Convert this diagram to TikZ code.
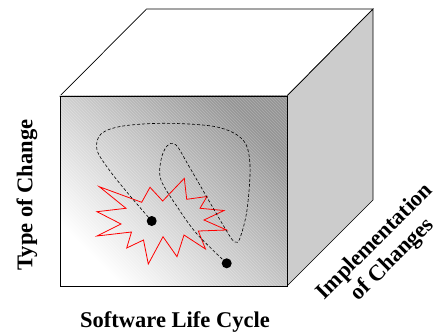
\documentclass[tikz,border=0pt]{standalone}
\usepackage{fontspec}
\setmainfont{Liberation Serif}
\usetikzlibrary{arrows,patterns}

\begin{document}
\begin{tikzpicture}[x=1pt,y=-1pt,
  face/.style={draw=black,line width=0.7pt},
  dot/.style={circle,fill=black,inner sep=0pt,minimum size=10pt},
  axis/.style={font=\fontsize{22.5}{25}\selectfont\bfseries}]

  \useasboundingbox (0,0) rectangle (434,334);

  % corners of the cube
  \coordinate (fa) at (60,96);
  \coordinate (fb) at (287,96);
  \coordinate (fc) at (287,286);
  \coordinate (fd) at (60,286);
  \coordinate (ba) at (146.5,9);
  \coordinate (bb) at (373,9);
  \coordinate (bc) at (373,200);

  \filldraw[face,fill=white] (fa) -- (ba) -- (bb) -- (fb) -- cycle;
  \filldraw[face,fill=black!20] (fb) -- (bb) -- (bc) -- (fc) -- cycle;
  \shade[top color=black!42,bottom color=white,shading angle=-45] (fa) rectangle (fc);
  \fill[pattern=north west lines,pattern color=white,opacity=0.25] (fa) rectangle (fc);
  \draw[face] (fa) rectangle (fc);

  % the change
  \draw[red,line width=0.8pt] (99.3,186.7) -- (141.7,202.3) -- (150,187.3)
    -- (162.7,201) -- (184.3,178.3) -- (186.7,199.3) -- (207,196.5)
    -- (200,208.3) -- (224,210.5) -- (204,220) -- (226.7,230)
    -- (198.3,231) -- (205.5,249) -- (184,235) -- (177,256.7)
    -- (163,236.7) -- (148.3,264) -- (143.5,240) -- (126.7,248)
    -- (131.5,232) -- (97,236) -- (121,224) -- (97,211.7)
    -- (126,208.3) -- cycle;

  \node[dot] (start) at (151.7,221) {};
  \node[dot] (stop) at (226.7,263.3) {};

  \draw[line width=0.6pt,dash pattern=on 3pt off 2pt]
    plot[smooth,tension=0.55] coordinates {(start.center) (131,197) (110,171)
      (97,150) (101,134) (123,126) (167,123.3) (217,127) (243,140) (250,165)
      (247,210) (240,238) (235,242) (226,230) (190,168) (176,145) (167,146)
      (161,160) (161,180) (178,208) (197,234) (stop.center)};

  \node[axis,rotate=90] (type) at (27,195) {Type of Change};
  \node[axis] (cycle) at (175,322) {Software Life Cycle};
  \node[axis,rotate=45,align=center] (impl) at (384,251) {Implementation\\of Changes};
\end{tikzpicture}
\end{document}
